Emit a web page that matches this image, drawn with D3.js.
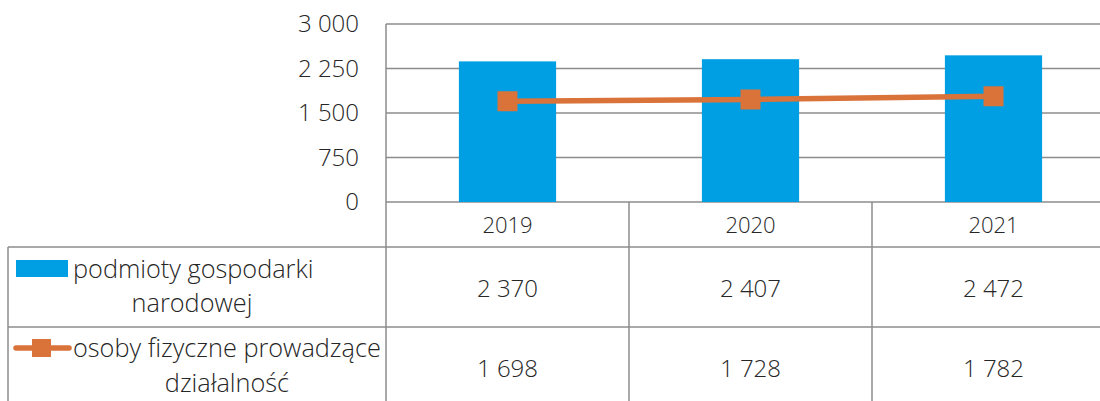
<!DOCTYPE html>
<html>
<head>
<meta charset="utf-8">
<script src="https://cdn.jsdelivr.net/npm/d3@7"></script>
<style>
  html, body { margin: 0; padding: 0; background: #fff; }
  svg text { font-family: "Open Sans", "Noto Sans", sans-serif; font-weight: 300; fill: #262626; }
</style>
</head>
<body>
<svg id="chart" width="1100" height="401"></svg>
<script>
let years = ["2019", "2020", "2021"];
let podmioty = [2370, 2407, 2472];
let osoby = [1698, 1728, 1782];
let yTicks = [0, 750, 1500, 2250, 3000];
let seriesNames = [
    ["podmioty gospodarki", "narodowej"],
    ["osoby fizyczne prowadzące", "działalność"]
];

let blue = "#009fe3", orange = "#d9733a", grid = "#8c8c8c";
let svg = d3.select("#chart");
let g = svg.append("g");

let plotLeft = 386, plotRight = 1115, plotTop = 24, base = 202;
let tableLeft = 8, row1 = 247, row2 = 327, bottom = 401;

let x = d3.scaleBand().domain(years).range([plotLeft, plotRight])
    .paddingInner(0.6).paddingOuter(0.3);
let cols = d3.scaleBand().domain(years).range([plotLeft, plotRight]);
let y = d3.scaleLinear().domain([0, 3000]).range([base, plotTop]);

let fmt = v => d3.format(",")(v).replace(/,/g, " ");

// gridlines
g.append("g").selectAll("line")
    .data(yTicks)
    .enter().append("line")
    .attr("x1", plotLeft).attr("x2", plotRight)
    .attr("y1", d => y(d)).attr("y2", d => y(d))
    .style("stroke", grid).style("stroke-width", 1.5);

// y axis labels
let axisY = g.append("g")
    .attr("transform", "translate(" + plotLeft + ",0)")
    .call(d3.axisLeft(y).tickValues(yTicks).tickFormat(fmt).tickSize(0).tickPadding(27));
axisY.select(".domain").remove();
axisY.selectAll("text").style("font-size", "24px").style("font-family", null);

// bars
g.append("g").selectAll("rect")
    .data(podmioty)
    .enter().append("rect")
    .attr("x", (d, i) => x(years[i]))
    .attr("width", x.bandwidth())
    .attr("y", d => y(d))
    .attr("height", d => base - y(d))
    .style("fill", blue);

// line + markers
let cx = (d, i) => x(years[i]) + x.bandwidth() / 2;
g.append("path")
    .datum(osoby)
    .attr("d", d3.line().x(cx).y(d => y(d)))
    .style("fill", "none").style("stroke", orange).style("stroke-width", 5.5);
g.append("g").selectAll("rect")
    .data(osoby)
    .enter().append("rect")
    .attr("x", (d, i) => cx(d, i) - 10)
    .attr("y", d => y(d) - 10)
    .attr("width", 20).attr("height", 20)
    .style("fill", orange);

// data table lines
let tbl = g.append("g").style("stroke", grid).style("stroke-width", 1.5);
tbl.append("line").attr("x1", plotLeft).attr("x2", plotLeft).attr("y1", plotTop).attr("y2", bottom);
years.slice(1).forEach(yr => {
    tbl.append("line").attr("x1", cols(yr)).attr("x2", cols(yr)).attr("y1", base).attr("y2", bottom);
});
[row1, row2].forEach(r => {
    tbl.append("line").attr("x1", tableLeft).attr("x2", plotRight).attr("y1", r).attr("y2", r);
});
tbl.append("line").attr("x1", tableLeft).attr("x2", tableLeft).attr("y1", row1).attr("y2", bottom);

// header years
g.append("g").selectAll("text")
    .data(years)
    .enter().append("text")
    .attr("x", d => cols(d) + cols.bandwidth() / 2)
    .attr("y", 233)
    .attr("text-anchor", "middle")
    .style("font-size", "22px")
    .text(d => d);

// table values
[[podmioty, 297], [osoby, 377]].forEach(([vals, yy]) => {
    g.append("g").selectAll("text")
        .data(vals)
        .enter().append("text")
        .attr("x", (d, i) => cols(years[i]) + cols.bandwidth() / 2)
        .attr("y", yy)
        .attr("text-anchor", "middle")
        .style("font-size", "24px")
        .text(d => fmt(d));
});

// legend keys
g.append("rect").attr("x", 16).attr("y", 260).attr("width", 52).attr("height", 17).style("fill", blue);
g.append("line").attr("x1", 16).attr("x2", 69).attr("y1", 348).attr("y2", 348)
    .style("stroke", orange).style("stroke-width", 5.5).style("stroke-linecap", "round");
g.append("rect").attr("x", 32).attr("y", 339).attr("width", 19).attr("height", 18).style("fill", orange);

// legend labels
let lbl = g.append("g").style("font-size", "25.3px");
lbl.append("text").attr("x", 73).attr("y", 278).text(seriesNames[0][0]);
lbl.append("text").attr("x", 192).attr("y", 312).attr("text-anchor", "middle").text(seriesNames[0][1]);
lbl.append("text").attr("x", 73).attr("y", 357).text(seriesNames[1][0]);
lbl.append("text").attr("x", 227).attr("y", 392).attr("text-anchor", "middle").text(seriesNames[1][1]);
</script>
</body>
</html>
